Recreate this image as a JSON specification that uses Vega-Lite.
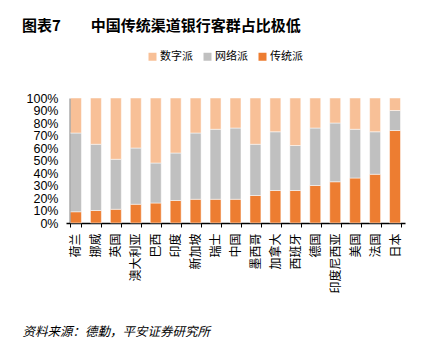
{
  "$schema": "https://vega.github.io/schema/vega-lite/v6.json",
  "width": 339,
  "height": 125,
  "autosize": "none",
  "padding": {"left": 66, "top": 98, "right": 20, "bottom": 130},
  "background": "white",
  "title": {
    "text": "图表7　　中国传统渠道银行客群占比极低",
    "anchor": "start",
    "frame": "group",
    "dx": -44,
    "dy": -13,
    "font": "Noto Sans CJK SC",
    "fontSize": 15,
    "fontWeight": "bold",
    "color": "#000"
  },
  "config": {
    "view": {"stroke": null},
    "axis": {"grid": false}
  },
  "data": {
    "values": [
      {"country": "荷兰", "type": "传统派", "share": 0.09},
      {"country": "荷兰", "type": "网络派", "share": 0.63},
      {"country": "荷兰", "type": "数字派", "share": 0.28},
      {"country": "挪威", "type": "传统派", "share": 0.10},
      {"country": "挪威", "type": "网络派", "share": 0.53},
      {"country": "挪威", "type": "数字派", "share": 0.37},
      {"country": "英国", "type": "传统派", "share": 0.11},
      {"country": "英国", "type": "网络派", "share": 0.40},
      {"country": "英国", "type": "数字派", "share": 0.49},
      {"country": "澳大利亚", "type": "传统派", "share": 0.15},
      {"country": "澳大利亚", "type": "网络派", "share": 0.45},
      {"country": "澳大利亚", "type": "数字派", "share": 0.40},
      {"country": "巴西", "type": "传统派", "share": 0.16},
      {"country": "巴西", "type": "网络派", "share": 0.32},
      {"country": "巴西", "type": "数字派", "share": 0.52},
      {"country": "印度", "type": "传统派", "share": 0.18},
      {"country": "印度", "type": "网络派", "share": 0.38},
      {"country": "印度", "type": "数字派", "share": 0.44},
      {"country": "新加坡", "type": "传统派", "share": 0.19},
      {"country": "新加坡", "type": "网络派", "share": 0.53},
      {"country": "新加坡", "type": "数字派", "share": 0.28},
      {"country": "瑞士", "type": "传统派", "share": 0.19},
      {"country": "瑞士", "type": "网络派", "share": 0.56},
      {"country": "瑞士", "type": "数字派", "share": 0.25},
      {"country": "中国", "type": "传统派", "share": 0.19},
      {"country": "中国", "type": "网络派", "share": 0.57},
      {"country": "中国", "type": "数字派", "share": 0.24},
      {"country": "墨西哥", "type": "传统派", "share": 0.22},
      {"country": "墨西哥", "type": "网络派", "share": 0.41},
      {"country": "墨西哥", "type": "数字派", "share": 0.37},
      {"country": "加拿大", "type": "传统派", "share": 0.26},
      {"country": "加拿大", "type": "网络派", "share": 0.47},
      {"country": "加拿大", "type": "数字派", "share": 0.27},
      {"country": "西班牙", "type": "传统派", "share": 0.26},
      {"country": "西班牙", "type": "网络派", "share": 0.36},
      {"country": "西班牙", "type": "数字派", "share": 0.38},
      {"country": "德国", "type": "传统派", "share": 0.30},
      {"country": "德国", "type": "网络派", "share": 0.46},
      {"country": "德国", "type": "数字派", "share": 0.24},
      {"country": "印度尼西亚", "type": "传统派", "share": 0.33},
      {"country": "印度尼西亚", "type": "网络派", "share": 0.47},
      {"country": "印度尼西亚", "type": "数字派", "share": 0.20},
      {"country": "美国", "type": "传统派", "share": 0.36},
      {"country": "美国", "type": "网络派", "share": 0.39},
      {"country": "美国", "type": "数字派", "share": 0.25},
      {"country": "法国", "type": "传统派", "share": 0.39},
      {"country": "法国", "type": "网络派", "share": 0.34},
      {"country": "法国", "type": "数字派", "share": 0.27},
      {"country": "日本", "type": "传统派", "share": 0.74},
      {"country": "日本", "type": "网络派", "share": 0.16},
      {"country": "日本", "type": "数字派", "share": 0.10}
    ]
  },
  "transform": [
    {"calculate": "indexof(['传统派', '网络派', '数字派'], datum.type)", "as": "stackOrder"}
  ],
  "mark": {"type": "bar", "stroke": "white", "strokeWidth": 0.5},
  "encoding": {
    "x": {
      "field": "country",
      "type": "nominal",
      "sort": null,
      "scale": {"paddingInner": 0.45, "paddingOuter": 0.225},
      "axis": {
        "title": "资料来源：德勤，平安证券研究所",
        "titleFont": "Noto Sans CJK SC",
        "titleFontSize": 12.5,
        "titleFontStyle": "italic",
        "titleFontWeight": "normal",
        "titleColor": "#000",
        "titleAnchor": "start",
        "titleAlign": "left",
        "titleBaseline": "middle",
        "titleX": -44,
        "titleY": 108,
        "labelAngle": -90,
        "labelAlign": "right",
        "labelBaseline": "middle",
        "labelFont": "Noto Sans CJK SC",
        "labelFontSize": 12,
        "labelColor": "#000",
        "labelPadding": 6,
        "labelOverlap": false,
        "labelBound": false,
        "tickBand": "extent",
        "tickSize": 4,
        "tickColor": "#000",
        "domainColor": "#000",
        "domainWidth": 1.5
      }
    },
    "y": {
      "field": "share",
      "type": "quantitative",
      "stack": "zero",
      "scale": {"domain": [0, 1]},
      "axis": {
        "title": null,
        "format": ".0%",
        "values": [0, 0.1, 0.2, 0.3, 0.4, 0.5, 0.6, 0.7, 0.8, 0.9, 1],
        "labelOverlap": false,
        "labelFont": "Liberation Sans",
        "labelFontSize": 12.5,
        "labelColor": "#000",
        "labelPadding": 12,
        "ticks": false,
        "offset": -4,
        "domainColor": "#000",
        "domainWidth": 1.5
      }
    },
    "color": {
      "field": "type",
      "type": "nominal",
      "sort": ["数字派", "网络派", "传统派"],
      "scale": {
        "domain": ["数字派", "网络派", "传统派"],
        "range": ["#F8C097", "#C0C0C0", "#ED7D31"]
      },
      "legend": {
        "title": null,
        "orient": "none",
        "direction": "horizontal",
        "legendX": 81,
        "legendY": -47,
        "symbolType": "square",
        "symbolSize": 64,
        "symbolStrokeWidth": 0,
        "labelFont": "Noto Sans CJK SC",
        "labelFontSize": 11,
        "labelColor": "#000",
        "labelOffset": 2,
        "columnPadding": 9
      }
    },
    "order": {"field": "stackOrder", "type": "quantitative", "sort": "ascending"}
  }
}
